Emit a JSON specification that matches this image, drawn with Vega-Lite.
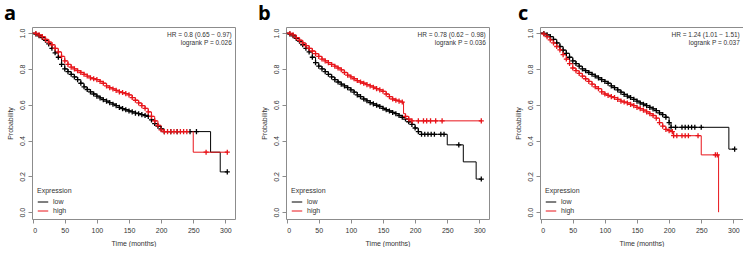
{
  "$schema": "https://vega.github.io/schema/vega-lite/v6.json",
  "padding": {"left": 3, "top": 3, "right": 0, "bottom": 0},
  "background": "white",
  "bounds": "flush",
  "spacing": 51,
  "resolve": {"legend": {"color": "independent"}},
  "datasets": {
    "notes": [
      {"p": "a", "t": 310, "s": 0.99, "label": "HR = 0.8 (0.65 − 0.97)"},
      {"p": "a", "t": 310, "s": 0.945, "label": "logrank P = 0.026"},
      {"p": "b", "t": 310, "s": 0.99, "label": "HR = 0.78 (0.62 − 0.98)"},
      {"p": "b", "t": 310, "s": 0.945, "label": "logrank P = 0.036"},
      {"p": "c", "t": 310, "s": 0.99, "label": "HR = 1.24 (1.01 − 1.51)"},
      {"p": "c", "t": 310, "s": 0.945, "label": "logrank P = 0.037"}
    ],
    "km": [
      {"p":"a","g":"low","t":0,"s":1,"c":0},{"p":"a","g":"low","t":5,"s":0.995,"c":1},{"p":"a","g":"low","t":10,"s":0.985,"c":1},{"p":"a","g":"low","t":15,"s":0.975,"c":1},{"p":"a","g":"low","t":20,"s":0.96,"c":1},{"p":"a","g":"low","t":25,"s":0.94,"c":1},{"p":"a","g":"low","t":30,"s":0.915,"c":1},{"p":"a","g":"low","t":35,"s":0.89,"c":1},{"p":"a","g":"low","t":40,"s":0.865,"c":1},{"p":"a","g":"low","t":45,"s":0.825,"c":1},{"p":"a","g":"low","t":50,"s":0.8,"c":1},{"p":"a","g":"low","t":55,"s":0.785,"c":1},{"p":"a","g":"low","t":60,"s":0.77,"c":1},{"p":"a","g":"low","t":65,"s":0.755,"c":1},{"p":"a","g":"low","t":70,"s":0.74,"c":1},{"p":"a","g":"low","t":75,"s":0.72,"c":1},{"p":"a","g":"low","t":80,"s":0.7,"c":1},{"p":"a","g":"low","t":85,"s":0.685,"c":1},{"p":"a","g":"low","t":90,"s":0.672,"c":1},{"p":"a","g":"low","t":95,"s":0.66,"c":1},{"p":"a","g":"low","t":100,"s":0.648,"c":1},{"p":"a","g":"low","t":105,"s":0.638,"c":1},{"p":"a","g":"low","t":110,"s":0.628,"c":1},{"p":"a","g":"low","t":115,"s":0.62,"c":1},{"p":"a","g":"low","t":120,"s":0.612,"c":1},{"p":"a","g":"low","t":125,"s":0.603,"c":1},{"p":"a","g":"low","t":130,"s":0.595,"c":1},{"p":"a","g":"low","t":135,"s":0.585,"c":1},{"p":"a","g":"low","t":140,"s":0.578,"c":1},{"p":"a","g":"low","t":145,"s":0.572,"c":1},{"p":"a","g":"low","t":150,"s":0.565,"c":1},{"p":"a","g":"low","t":155,"s":0.56,"c":1},{"p":"a","g":"low","t":160,"s":0.553,"c":1},{"p":"a","g":"low","t":165,"s":0.55,"c":1},{"p":"a","g":"low","t":170,"s":0.545,"c":1},{"p":"a","g":"low","t":175,"s":0.54,"c":1},{"p":"a","g":"low","t":180,"s":0.535,"c":1},{"p":"a","g":"low","t":185,"s":0.515,"c":1},{"p":"a","g":"low","t":190,"s":0.495,"c":1},{"p":"a","g":"low","t":195,"s":0.48,"c":1},{"p":"a","g":"low","t":200,"s":0.465,"c":1},{"p":"a","g":"low","t":205,"s":0.45,"c":1},{"p":"a","g":"low","t":215,"s":0.45,"c":1},{"p":"a","g":"low","t":225,"s":0.45,"c":1},{"p":"a","g":"low","t":245,"s":0.45,"c":1},{"p":"a","g":"low","t":255,"s":0.45,"c":1},{"p":"a","g":"low","t":277,"s":0.335,"c":0},{"p":"a","g":"low","t":292,"s":0.225,"c":0},{"p":"a","g":"low","t":303,"s":0.225,"c":1},
      {"p":"a","g":"high","t":0,"s":1,"c":0},{"p":"a","g":"high","t":5,"s":0.998,"c":1},{"p":"a","g":"high","t":10,"s":0.99,"c":1},{"p":"a","g":"high","t":15,"s":0.98,"c":1},{"p":"a","g":"high","t":20,"s":0.965,"c":1},{"p":"a","g":"high","t":25,"s":0.95,"c":1},{"p":"a","g":"high","t":30,"s":0.935,"c":1},{"p":"a","g":"high","t":35,"s":0.915,"c":1},{"p":"a","g":"high","t":40,"s":0.895,"c":1},{"p":"a","g":"high","t":45,"s":0.87,"c":1},{"p":"a","g":"high","t":50,"s":0.845,"c":1},{"p":"a","g":"high","t":55,"s":0.825,"c":1},{"p":"a","g":"high","t":60,"s":0.81,"c":1},{"p":"a","g":"high","t":65,"s":0.8,"c":1},{"p":"a","g":"high","t":70,"s":0.79,"c":1},{"p":"a","g":"high","t":75,"s":0.78,"c":1},{"p":"a","g":"high","t":80,"s":0.77,"c":1},{"p":"a","g":"high","t":85,"s":0.76,"c":1},{"p":"a","g":"high","t":90,"s":0.75,"c":1},{"p":"a","g":"high","t":95,"s":0.745,"c":1},{"p":"a","g":"high","t":100,"s":0.74,"c":1},{"p":"a","g":"high","t":105,"s":0.73,"c":1},{"p":"a","g":"high","t":110,"s":0.72,"c":1},{"p":"a","g":"high","t":115,"s":0.705,"c":1},{"p":"a","g":"high","t":120,"s":0.695,"c":1},{"p":"a","g":"high","t":125,"s":0.688,"c":1},{"p":"a","g":"high","t":130,"s":0.68,"c":1},{"p":"a","g":"high","t":135,"s":0.672,"c":1},{"p":"a","g":"high","t":140,"s":0.668,"c":1},{"p":"a","g":"high","t":145,"s":0.662,"c":1},{"p":"a","g":"high","t":150,"s":0.655,"c":1},{"p":"a","g":"high","t":155,"s":0.64,"c":1},{"p":"a","g":"high","t":160,"s":0.625,"c":1},{"p":"a","g":"high","t":165,"s":0.61,"c":1},{"p":"a","g":"high","t":170,"s":0.595,"c":1},{"p":"a","g":"high","t":175,"s":0.58,"c":1},{"p":"a","g":"high","t":180,"s":0.56,"c":1},{"p":"a","g":"high","t":185,"s":0.535,"c":1},{"p":"a","g":"high","t":190,"s":0.51,"c":1},{"p":"a","g":"high","t":195,"s":0.485,"c":1},{"p":"a","g":"high","t":200,"s":0.46,"c":1},{"p":"a","g":"high","t":205,"s":0.45,"c":1},{"p":"a","g":"high","t":210,"s":0.45,"c":1},{"p":"a","g":"high","t":215,"s":0.45,"c":1},{"p":"a","g":"high","t":220,"s":0.45,"c":1},{"p":"a","g":"high","t":225,"s":0.45,"c":1},{"p":"a","g":"high","t":230,"s":0.45,"c":1},{"p":"a","g":"high","t":235,"s":0.45,"c":1},{"p":"a","g":"high","t":240,"s":0.45,"c":1},{"p":"a","g":"high","t":250,"s":0.335,"c":0},{"p":"a","g":"high","t":270,"s":0.335,"c":1},{"p":"a","g":"high","t":303,"s":0.335,"c":1},
      {"p":"b","g":"low","t":0,"s":1,"c":0},{"p":"b","g":"low","t":5,"s":0.995,"c":1},{"p":"b","g":"low","t":10,"s":0.985,"c":1},{"p":"b","g":"low","t":15,"s":0.97,"c":1},{"p":"b","g":"low","t":20,"s":0.955,"c":1},{"p":"b","g":"low","t":25,"s":0.935,"c":1},{"p":"b","g":"low","t":30,"s":0.915,"c":1},{"p":"b","g":"low","t":35,"s":0.895,"c":1},{"p":"b","g":"low","t":40,"s":0.865,"c":1},{"p":"b","g":"low","t":45,"s":0.835,"c":1},{"p":"b","g":"low","t":50,"s":0.815,"c":1},{"p":"b","g":"low","t":55,"s":0.8,"c":1},{"p":"b","g":"low","t":60,"s":0.785,"c":1},{"p":"b","g":"low","t":65,"s":0.77,"c":1},{"p":"b","g":"low","t":70,"s":0.755,"c":1},{"p":"b","g":"low","t":75,"s":0.74,"c":1},{"p":"b","g":"low","t":80,"s":0.727,"c":1},{"p":"b","g":"low","t":85,"s":0.715,"c":1},{"p":"b","g":"low","t":90,"s":0.705,"c":1},{"p":"b","g":"low","t":95,"s":0.695,"c":1},{"p":"b","g":"low","t":100,"s":0.683,"c":1},{"p":"b","g":"low","t":105,"s":0.67,"c":1},{"p":"b","g":"low","t":110,"s":0.655,"c":1},{"p":"b","g":"low","t":115,"s":0.645,"c":1},{"p":"b","g":"low","t":120,"s":0.632,"c":1},{"p":"b","g":"low","t":125,"s":0.622,"c":1},{"p":"b","g":"low","t":130,"s":0.612,"c":1},{"p":"b","g":"low","t":135,"s":0.605,"c":1},{"p":"b","g":"low","t":140,"s":0.597,"c":1},{"p":"b","g":"low","t":145,"s":0.59,"c":1},{"p":"b","g":"low","t":150,"s":0.58,"c":1},{"p":"b","g":"low","t":155,"s":0.572,"c":1},{"p":"b","g":"low","t":160,"s":0.565,"c":1},{"p":"b","g":"low","t":165,"s":0.557,"c":1},{"p":"b","g":"low","t":170,"s":0.55,"c":1},{"p":"b","g":"low","t":175,"s":0.54,"c":1},{"p":"b","g":"low","t":180,"s":0.53,"c":1},{"p":"b","g":"low","t":185,"s":0.52,"c":1},{"p":"b","g":"low","t":190,"s":0.505,"c":1},{"p":"b","g":"low","t":195,"s":0.49,"c":1},{"p":"b","g":"low","t":200,"s":0.47,"c":1},{"p":"b","g":"low","t":205,"s":0.45,"c":1},{"p":"b","g":"low","t":210,"s":0.435,"c":1},{"p":"b","g":"low","t":215,"s":0.435,"c":1},{"p":"b","g":"low","t":220,"s":0.435,"c":1},{"p":"b","g":"low","t":225,"s":0.435,"c":1},{"p":"b","g":"low","t":230,"s":0.435,"c":1},{"p":"b","g":"low","t":240,"s":0.435,"c":1},{"p":"b","g":"low","t":245,"s":0.435,"c":1},{"p":"b","g":"low","t":250,"s":0.376,"c":0},{"p":"b","g":"low","t":268,"s":0.376,"c":1},{"p":"b","g":"low","t":275,"s":0.281,"c":0},{"p":"b","g":"low","t":295,"s":0.185,"c":0},{"p":"b","g":"low","t":303,"s":0.185,"c":1},
      {"p":"b","g":"high","t":0,"s":1,"c":0},{"p":"b","g":"high","t":5,"s":0.998,"c":1},{"p":"b","g":"high","t":10,"s":0.99,"c":1},{"p":"b","g":"high","t":15,"s":0.975,"c":1},{"p":"b","g":"high","t":20,"s":0.96,"c":1},{"p":"b","g":"high","t":25,"s":0.945,"c":1},{"p":"b","g":"high","t":30,"s":0.93,"c":1},{"p":"b","g":"high","t":35,"s":0.915,"c":1},{"p":"b","g":"high","t":40,"s":0.9,"c":1},{"p":"b","g":"high","t":45,"s":0.885,"c":1},{"p":"b","g":"high","t":50,"s":0.87,"c":1},{"p":"b","g":"high","t":55,"s":0.855,"c":1},{"p":"b","g":"high","t":60,"s":0.845,"c":1},{"p":"b","g":"high","t":65,"s":0.835,"c":1},{"p":"b","g":"high","t":70,"s":0.825,"c":1},{"p":"b","g":"high","t":75,"s":0.815,"c":1},{"p":"b","g":"high","t":80,"s":0.805,"c":1},{"p":"b","g":"high","t":85,"s":0.795,"c":1},{"p":"b","g":"high","t":90,"s":0.78,"c":1},{"p":"b","g":"high","t":95,"s":0.765,"c":1},{"p":"b","g":"high","t":100,"s":0.755,"c":1},{"p":"b","g":"high","t":105,"s":0.745,"c":1},{"p":"b","g":"high","t":110,"s":0.735,"c":1},{"p":"b","g":"high","t":115,"s":0.727,"c":1},{"p":"b","g":"high","t":120,"s":0.72,"c":1},{"p":"b","g":"high","t":125,"s":0.712,"c":1},{"p":"b","g":"high","t":130,"s":0.705,"c":1},{"p":"b","g":"high","t":135,"s":0.698,"c":1},{"p":"b","g":"high","t":140,"s":0.69,"c":1},{"p":"b","g":"high","t":145,"s":0.683,"c":1},{"p":"b","g":"high","t":150,"s":0.675,"c":1},{"p":"b","g":"high","t":155,"s":0.66,"c":1},{"p":"b","g":"high","t":160,"s":0.645,"c":1},{"p":"b","g":"high","t":165,"s":0.632,"c":1},{"p":"b","g":"high","t":170,"s":0.625,"c":1},{"p":"b","g":"high","t":175,"s":0.62,"c":1},{"p":"b","g":"high","t":180,"s":0.615,"c":1},{"p":"b","g":"high","t":182,"s":0.55,"c":0},{"p":"b","g":"high","t":185,"s":0.535,"c":1},{"p":"b","g":"high","t":190,"s":0.52,"c":1},{"p":"b","g":"high","t":195,"s":0.51,"c":1},{"p":"b","g":"high","t":205,"s":0.51,"c":1},{"p":"b","g":"high","t":213,"s":0.51,"c":1},{"p":"b","g":"high","t":218,"s":0.51,"c":1},{"p":"b","g":"high","t":224,"s":0.51,"c":1},{"p":"b","g":"high","t":232,"s":0.51,"c":1},{"p":"b","g":"high","t":242,"s":0.51,"c":1},{"p":"b","g":"high","t":303,"s":0.51,"c":1},
      {"p":"c","g":"low","t":0,"s":1,"c":0},{"p":"c","g":"low","t":5,"s":0.998,"c":1},{"p":"c","g":"low","t":10,"s":0.99,"c":1},{"p":"c","g":"low","t":15,"s":0.98,"c":1},{"p":"c","g":"low","t":20,"s":0.965,"c":1},{"p":"c","g":"low","t":25,"s":0.945,"c":1},{"p":"c","g":"low","t":30,"s":0.925,"c":1},{"p":"c","g":"low","t":35,"s":0.905,"c":1},{"p":"c","g":"low","t":40,"s":0.887,"c":1},{"p":"c","g":"low","t":45,"s":0.865,"c":1},{"p":"c","g":"low","t":50,"s":0.845,"c":1},{"p":"c","g":"low","t":55,"s":0.83,"c":1},{"p":"c","g":"low","t":60,"s":0.815,"c":1},{"p":"c","g":"low","t":65,"s":0.8,"c":1},{"p":"c","g":"low","t":70,"s":0.79,"c":1},{"p":"c","g":"low","t":75,"s":0.78,"c":1},{"p":"c","g":"low","t":80,"s":0.77,"c":1},{"p":"c","g":"low","t":85,"s":0.76,"c":1},{"p":"c","g":"low","t":90,"s":0.75,"c":1},{"p":"c","g":"low","t":95,"s":0.74,"c":1},{"p":"c","g":"low","t":100,"s":0.73,"c":1},{"p":"c","g":"low","t":105,"s":0.72,"c":1},{"p":"c","g":"low","t":110,"s":0.705,"c":1},{"p":"c","g":"low","t":115,"s":0.695,"c":1},{"p":"c","g":"low","t":120,"s":0.683,"c":1},{"p":"c","g":"low","t":125,"s":0.67,"c":1},{"p":"c","g":"low","t":130,"s":0.658,"c":1},{"p":"c","g":"low","t":135,"s":0.648,"c":1},{"p":"c","g":"low","t":140,"s":0.64,"c":1},{"p":"c","g":"low","t":145,"s":0.63,"c":1},{"p":"c","g":"low","t":150,"s":0.62,"c":1},{"p":"c","g":"low","t":155,"s":0.61,"c":1},{"p":"c","g":"low","t":160,"s":0.603,"c":1},{"p":"c","g":"low","t":165,"s":0.595,"c":1},{"p":"c","g":"low","t":170,"s":0.585,"c":1},{"p":"c","g":"low","t":175,"s":0.577,"c":1},{"p":"c","g":"low","t":180,"s":0.567,"c":1},{"p":"c","g":"low","t":185,"s":0.555,"c":1},{"p":"c","g":"low","t":190,"s":0.545,"c":1},{"p":"c","g":"low","t":195,"s":0.53,"c":1},{"p":"c","g":"low","t":200,"s":0.5,"c":1},{"p":"c","g":"low","t":203,"s":0.474,"c":1},{"p":"c","g":"low","t":210,"s":0.474,"c":1},{"p":"c","g":"low","t":220,"s":0.474,"c":1},{"p":"c","g":"low","t":225,"s":0.474,"c":1},{"p":"c","g":"low","t":230,"s":0.474,"c":1},{"p":"c","g":"low","t":235,"s":0.474,"c":1},{"p":"c","g":"low","t":240,"s":0.474,"c":1},{"p":"c","g":"low","t":250,"s":0.474,"c":1},{"p":"c","g":"low","t":293,"s":0.352,"c":0},{"p":"c","g":"low","t":302,"s":0.352,"c":1},
      {"p":"c","g":"high","t":0,"s":1,"c":0},{"p":"c","g":"high","t":5,"s":0.995,"c":1},{"p":"c","g":"high","t":10,"s":0.98,"c":1},{"p":"c","g":"high","t":15,"s":0.962,"c":1},{"p":"c","g":"high","t":20,"s":0.945,"c":1},{"p":"c","g":"high","t":25,"s":0.925,"c":1},{"p":"c","g":"high","t":30,"s":0.906,"c":1},{"p":"c","g":"high","t":35,"s":0.88,"c":1},{"p":"c","g":"high","t":40,"s":0.855,"c":1},{"p":"c","g":"high","t":45,"s":0.83,"c":1},{"p":"c","g":"high","t":50,"s":0.805,"c":1},{"p":"c","g":"high","t":55,"s":0.79,"c":1},{"p":"c","g":"high","t":60,"s":0.775,"c":1},{"p":"c","g":"high","t":65,"s":0.76,"c":1},{"p":"c","g":"high","t":70,"s":0.745,"c":1},{"p":"c","g":"high","t":75,"s":0.73,"c":1},{"p":"c","g":"high","t":80,"s":0.715,"c":1},{"p":"c","g":"high","t":85,"s":0.7,"c":1},{"p":"c","g":"high","t":90,"s":0.69,"c":1},{"p":"c","g":"high","t":95,"s":0.672,"c":1},{"p":"c","g":"high","t":100,"s":0.66,"c":1},{"p":"c","g":"high","t":105,"s":0.652,"c":1},{"p":"c","g":"high","t":110,"s":0.645,"c":1},{"p":"c","g":"high","t":115,"s":0.64,"c":1},{"p":"c","g":"high","t":120,"s":0.63,"c":1},{"p":"c","g":"high","t":125,"s":0.62,"c":1},{"p":"c","g":"high","t":130,"s":0.615,"c":1},{"p":"c","g":"high","t":135,"s":0.61,"c":1},{"p":"c","g":"high","t":140,"s":0.602,"c":1},{"p":"c","g":"high","t":145,"s":0.595,"c":1},{"p":"c","g":"high","t":150,"s":0.585,"c":1},{"p":"c","g":"high","t":155,"s":0.578,"c":1},{"p":"c","g":"high","t":160,"s":0.57,"c":1},{"p":"c","g":"high","t":165,"s":0.56,"c":1},{"p":"c","g":"high","t":170,"s":0.55,"c":1},{"p":"c","g":"high","t":175,"s":0.54,"c":1},{"p":"c","g":"high","t":180,"s":0.525,"c":1},{"p":"c","g":"high","t":185,"s":0.5,"c":1},{"p":"c","g":"high","t":190,"s":0.48,"c":1},{"p":"c","g":"high","t":195,"s":0.462,"c":1},{"p":"c","g":"high","t":200,"s":0.455,"c":1},{"p":"c","g":"high","t":205,"s":0.45,"c":1},{"p":"c","g":"high","t":207,"s":0.427,"c":1},{"p":"c","g":"high","t":212,"s":0.427,"c":1},{"p":"c","g":"high","t":220,"s":0.427,"c":1},{"p":"c","g":"high","t":225,"s":0.427,"c":1},{"p":"c","g":"high","t":230,"s":0.427,"c":1},{"p":"c","g":"high","t":245,"s":0.427,"c":1},{"p":"c","g":"high","t":250,"s":0.32,"c":0},{"p":"c","g":"high","t":272,"s":0.32,"c":1},{"p":"c","g":"high","t":275,"s":0.32,"c":1},{"p":"c","g":"high","t":277,"s":0,"c":0}
    ]
  },
  "hconcat": [
    {
      "width": 203, "height": 192,
      "title": {"text": "a", "dx": -28},
      "layer": [
        {"data": {"name": "km"}, "transform": [{"filter": "datum.p === 'a'"}],
         "mark": {"type": "line", "interpolate": "step-after", "strokeWidth": 1},
         "encoding": {
           "x": {"field": "t", "type": "quantitative", "scale": {"domain": [-1, 315], "nice": false, "zero": false}, "axis": {"values": [0,50,100,150,200,250,300], "tickCount": 20, "title": "Time (months)", "labelOverlap": false}},
           "y": {"field": "s", "type": "quantitative", "scale": {"domain": [-0.038, 1.034], "nice": false, "zero": false}, "axis": {"values": [0,0.2,0.4,0.6,0.8,1], "tickCount": 20, "format": ".1f", "title": "Probability", "labelAngle": -90, "labelOverlap": false}},
           "color": {"field": "g", "type": "nominal", "scale": {"domain": ["low","high"], "range": ["#000000","#e8141a"]}, "legend": {"title": "Expression"}},
           "detail": {"field": "g"}
         }},
        {"data": {"name": "km"}, "transform": [{"filter": "datum.p === 'a' && datum.c === 1"}],
         "mark": {"type": "point", "shape": "M-1,0H1M0,-1V1", "filled": false, "strokeWidth": 1.3, "size": 26, "opacity": 1},
         "encoding": {
           "x": {"field": "t", "type": "quantitative"},
           "y": {"field": "s", "type": "quantitative"},
           "color": {"field": "g", "type": "nominal", "legend": null}
         }},
        {"data": {"name": "notes"}, "transform": [{"filter": "datum.p === 'a'"}],
         "mark": {"type": "text", "align": "right", "baseline": "middle", "font": "Liberation Sans", "fontSize": 6.5, "color": "#333333"},
         "encoding": {
           "x": {"field": "t", "type": "quantitative"},
           "y": {"field": "s", "type": "quantitative"},
           "text": {"field": "label"}
         }}
      ]
    },
    {
      "width": 203, "height": 192,
      "title": {"text": "b", "dx": -28},
      "layer": [
        {"data": {"name": "km"}, "transform": [{"filter": "datum.p === 'b'"}],
         "mark": {"type": "line", "interpolate": "step-after", "strokeWidth": 1},
         "encoding": {
           "x": {"field": "t", "type": "quantitative", "scale": {"domain": [-1, 315], "nice": false, "zero": false}, "axis": {"values": [0,50,100,150,200,250,300], "tickCount": 20, "title": "Time (months)", "labelOverlap": false}},
           "y": {"field": "s", "type": "quantitative", "scale": {"domain": [-0.038, 1.034], "nice": false, "zero": false}, "axis": {"values": [0,0.2,0.4,0.6,0.8,1], "tickCount": 20, "format": ".1f", "title": "Probability", "labelAngle": -90, "labelOverlap": false}},
           "color": {"field": "g", "type": "nominal", "scale": {"domain": ["low","high"], "range": ["#000000","#e8141a"]}, "legend": {"title": "Expression"}},
           "detail": {"field": "g"}
         }},
        {"data": {"name": "km"}, "transform": [{"filter": "datum.p === 'b' && datum.c === 1"}],
         "mark": {"type": "point", "shape": "M-1,0H1M0,-1V1", "filled": false, "strokeWidth": 1.3, "size": 26, "opacity": 1},
         "encoding": {
           "x": {"field": "t", "type": "quantitative"},
           "y": {"field": "s", "type": "quantitative"},
           "color": {"field": "g", "type": "nominal", "legend": null}
         }},
        {"data": {"name": "notes"}, "transform": [{"filter": "datum.p === 'b'"}],
         "mark": {"type": "text", "align": "right", "baseline": "middle", "font": "Liberation Sans", "fontSize": 6.5, "color": "#333333"},
         "encoding": {
           "x": {"field": "t", "type": "quantitative"},
           "y": {"field": "s", "type": "quantitative"},
           "text": {"field": "label"}
         }}
      ]
    },
    {
      "width": 203, "height": 192,
      "title": {"text": "c", "dx": -22},
      "layer": [
        {"data": {"name": "km"}, "transform": [{"filter": "datum.p === 'c'"}],
         "mark": {"type": "line", "interpolate": "step-after", "strokeWidth": 1},
         "encoding": {
           "x": {"field": "t", "type": "quantitative", "scale": {"domain": [-1, 315], "nice": false, "zero": false}, "axis": {"values": [0,50,100,150,200,250,300], "tickCount": 20, "title": "Time (months)", "labelOverlap": false}},
           "y": {"field": "s", "type": "quantitative", "scale": {"domain": [-0.038, 1.034], "nice": false, "zero": false}, "axis": {"values": [0,0.2,0.4,0.6,0.8,1], "tickCount": 20, "format": ".1f", "title": "Probability", "labelAngle": -90, "labelOverlap": false}},
           "color": {"field": "g", "type": "nominal", "scale": {"domain": ["low","high"], "range": ["#000000","#e8141a"]}, "legend": {"title": "Expression"}},
           "detail": {"field": "g"}
         }},
        {"data": {"name": "km"}, "transform": [{"filter": "datum.p === 'c' && datum.c === 1"}],
         "mark": {"type": "point", "shape": "M-1,0H1M0,-1V1", "filled": false, "strokeWidth": 1.3, "size": 26, "opacity": 1},
         "encoding": {
           "x": {"field": "t", "type": "quantitative"},
           "y": {"field": "s", "type": "quantitative"},
           "color": {"field": "g", "type": "nominal", "legend": null}
         }},
        {"data": {"name": "notes"}, "transform": [{"filter": "datum.p === 'c'"}],
         "mark": {"type": "text", "align": "right", "baseline": "middle", "font": "Liberation Sans", "fontSize": 6.5, "color": "#333333"},
         "encoding": {
           "x": {"field": "t", "type": "quantitative"},
           "y": {"field": "s", "type": "quantitative"},
           "text": {"field": "label"}
         }}
      ]
    }
  ],
  "config": {
    "view": {"stroke": "#8c8c8c", "strokeWidth": 1},
    "title": {"anchor": "start", "frame": "group", "font": "Open Sans", "fontSize": 20, "fontWeight": "bold", "color": "#000000", "offset": 3, "baseline": "alphabetic"},
    "axis": {"labelFont": "Liberation Sans", "titleFont": "Liberation Sans", "labelFontSize": 7, "titleFontSize": 7, "titleFontWeight": "normal", "labelColor": "#333333", "titleColor": "#333333", "tickColor": "#8c8c8c", "tickSize": 4, "domain": false, "grid": false, "labelPadding": 3, "labelOverlap": false},
    "axisX": {"titlePadding": 6},
    "axisY": {"titlePadding": 5},
    "legend": {"orient": "bottom-left", "offset": 5, "titleFont": "Liberation Sans", "labelFont": "Liberation Sans", "titleFontSize": 7, "labelFontSize": 7, "titleFontWeight": "normal", "titleColor": "#333333", "labelColor": "#333333", "symbolType": "stroke", "symbolSize": 110, "symbolStrokeWidth": 1, "rowPadding": -1, "titlePadding": 2, "labelOffset": 4, "padding": 0}
  }
}
